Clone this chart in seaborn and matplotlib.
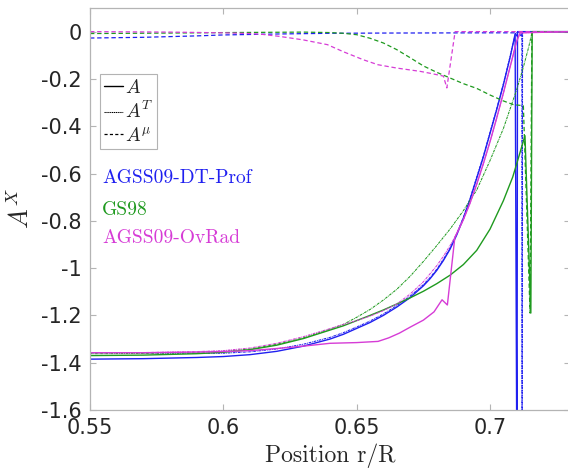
import matplotlib
matplotlib.use("Agg")
import matplotlib.pyplot as plt
import seaborn as sns
from matplotlib.lines import Line2D

sns.set_style("white")
plt.rcParams['font.family'] = ['DejaVu Sans']
plt.rcParams['mathtext.fontset'] = 'cm'
plt.rcParams['axes.unicode_minus'] = False

# ---------------- data ----------------
model_names = ["AGSS09-DT-Prof", "GS98", "AGSS09-OvRad"]
model_colors = ["#2020f0", "#1f9a1f", "#d63cd6"]

# AGSS09-DT-Prof
blueA_x = [0.55, 0.57, 0.59, 0.60, 0.61, 0.62, 0.63, 0.64, 0.645, 0.65, 0.655, 0.66, 0.665, 0.67,
           0.675, 0.6775, 0.68, 0.6825, 0.685, 0.6875, 0.69, 0.6925, 0.695, 0.6975, 0.70, 0.7025,
           0.705, 0.7075, 0.7094, 0.7101, 0.7103, 0.73]
blue_A = [-1.385, -1.383, -1.378, -1.374, -1.366, -1.352, -1.33, -1.30, -1.28, -1.255, -1.23, -1.20,
          -1.165, -1.125, -1.075, -1.045, -1.01, -0.968, -0.92, -0.86, -0.79, -0.71, -0.62, -0.53,
          -0.43, -0.33, -0.225, -0.11, -0.01, -2.0, 0.0, 0.0]
blueT_x = [0.55, 0.57, 0.59, 0.60, 0.61, 0.62, 0.63, 0.64, 0.645, 0.65, 0.655, 0.66, 0.665, 0.67,
           0.675, 0.6775, 0.68, 0.6825, 0.685, 0.6875, 0.69, 0.6925, 0.695, 0.6975, 0.70, 0.7025,
           0.705, 0.7075, 0.7096, 0.7119, 0.712, 0.7122, 0.73]
blue_AT = [-1.358, -1.359, -1.36, -1.36, -1.354, -1.342, -1.322, -1.293, -1.273, -1.249, -1.224, -1.194,
           -1.159, -1.119, -1.07, -1.04, -1.005, -0.963, -0.915, -0.855, -0.785, -0.705, -0.615, -0.525,
           -0.425, -0.325, -0.22, -0.105, -0.005, 0.0, -2.0, 0.0, 0.0]
blueM_x = [0.55, 0.57, 0.59, 0.60, 0.62, 0.64, 0.66, 0.70, 0.7095, 0.7100, 0.7104, 0.7117, 0.7121,
           0.7125, 0.73]
blue_Am = [-0.027, -0.024, -0.018, -0.014, -0.010, -0.007, -0.006, -0.005, -0.005, -0.018, -0.003,
           -0.018, -0.003, 0.0, 0.0]

# GS98
greenA_x = [0.55, 0.57, 0.59, 0.60, 0.61, 0.62, 0.63, 0.64, 0.645, 0.65, 0.655, 0.66, 0.665, 0.67,
            0.675, 0.68, 0.685, 0.69, 0.695, 0.70, 0.705, 0.7085, 0.7101, 0.7131, 0.7153, 0.7158, 0.73]
green_A = [-1.37, -1.368, -1.362, -1.356, -1.345, -1.326, -1.298, -1.262, -1.244, -1.222, -1.20, -1.177,
           -1.152, -1.126, -1.098, -1.066, -1.03, -0.985, -0.925, -0.835, -0.715, -0.615, -0.555, -0.44,
           -1.19, 0.0, 0.0]
greenT_x = [0.55, 0.57, 0.59, 0.60, 0.61, 0.62, 0.63, 0.64, 0.645, 0.65, 0.655, 0.66, 0.665, 0.67,
            0.675, 0.68, 0.685, 0.69, 0.695, 0.70, 0.705, 0.71, 0.7125, 0.7145, 0.7158, 0.73]
green_AT = [-1.362, -1.361, -1.357, -1.352, -1.342, -1.322, -1.295, -1.258, -1.238, -1.208, -1.175, -1.135,
            -1.09, -1.035, -0.972, -0.905, -0.835, -0.757, -0.67, -0.545, -0.41, -0.245, -0.15, -0.065,
            0.0, 0.0]
greenM_x = [0.55, 0.58, 0.60, 0.63, 0.64, 0.645, 0.65, 0.655, 0.66, 0.665, 0.67, 0.675, 0.68, 0.685,
            0.69, 0.695, 0.70, 0.705, 0.7088, 0.7125, 0.715, 0.7157, 0.73]
green_Am = [-0.008, -0.006, -0.004, -0.002, -0.004, -0.007, -0.013, -0.028, -0.048, -0.076, -0.11,
            -0.145, -0.172, -0.196, -0.22, -0.24, -0.268, -0.293, -0.309, -0.313, -1.19, 0.0, 0.0]

# AGSS09-OvRad
magA_x = [0.55, 0.57, 0.59, 0.60, 0.61, 0.62, 0.63, 0.64, 0.65, 0.658, 0.662, 0.666, 0.67, 0.675,
          0.679, 0.682, 0.684, 0.6868, 0.69, 0.6925, 0.695, 0.6975, 0.70, 0.7025, 0.705, 0.7075,
          0.71, 0.7113, 0.73]
mag_A = [-1.358, -1.358, -1.355, -1.353, -1.349, -1.34, -1.33, -1.318, -1.315, -1.31, -1.295, -1.275,
         -1.25, -1.22, -1.185, -1.134, -1.156, -0.87, -0.795, -0.725, -0.645, -0.558, -0.465, -0.365,
         -0.26, -0.15, -0.04, -0.005, 0.0]
magT_x = [0.55, 0.57, 0.59, 0.60, 0.61, 0.62, 0.63, 0.64, 0.645, 0.65, 0.655, 0.66, 0.665, 0.67,
          0.675, 0.68, 0.6825, 0.685, 0.6875, 0.69, 0.6925, 0.695, 0.6975, 0.70, 0.7025, 0.705,
          0.7075, 0.71, 0.7113, 0.73]
mag_AT = [-1.357, -1.357, -1.353, -1.349, -1.338, -1.318, -1.29, -1.256, -1.238, -1.222, -1.203, -1.18,
          -1.152, -1.11, -1.058, -0.99, -0.95, -0.905, -0.855, -0.795, -0.725, -0.645, -0.558, -0.465,
          -0.365, -0.26, -0.15, -0.04, -0.005, 0.0]
magM_x = [0.55, 0.58, 0.60, 0.61, 0.615, 0.621, 0.63, 0.639, 0.645, 0.6525, 0.658, 0.665, 0.6738,
          0.6775, 0.6825, 0.6838, 0.6869, 0.73]
mag_Am = [0.0, -0.002, -0.005, -0.008, -0.012, -0.02, -0.035, -0.055, -0.085, -0.119, -0.14, -0.154,
          -0.168, -0.176, -0.188, -0.238, 0.0, 0.0]

x_ticks = [0.55, 0.6, 0.65, 0.7]
x_tick_labels = ["0.55", "0.6", "0.65", "0.7"]
y_ticks = [0, -0.2, -0.4, -0.6, -0.8, -1.0, -1.2, -1.4, -1.6]
y_tick_labels = ["0", "-0.2", "-0.4", "-0.6", "-0.8", "-1", "-1.2", "-1.4", "-1.6"]

series = [
    (blueA_x, blue_A, blueT_x, blue_AT, blueM_x, blue_Am),
    (greenA_x, green_A, greenT_x, green_AT, greenM_x, green_Am),
    (magA_x, mag_A, magT_x, mag_AT, magM_x, mag_Am),
]

# ---------------- figure ----------------
fig = plt.figure(figsize=(5.68, 4.70), dpi=100)
ax = fig.add_axes([0.1585, 0.1277, 0.8451, 0.8553])

ls_T = (0, (2.5, 0.8, 0.8, 0.8))
ls_M = (0, (3.5, 2.2))
for (xa, ya, xt, yt, xm, ym), col in zip(series, model_colors):
    sns.lineplot(x=xa, y=ya, ax=ax, color=col, linewidth=1.0, sort=False, estimator=None)
    sns.lineplot(x=xt, y=yt, ax=ax, color=col, linewidth=0.75, linestyle=ls_T, sort=False, estimator=None)
    sns.lineplot(x=xm, y=ym, ax=ax, color=col, linewidth=0.9, linestyle=ls_M, sort=False, estimator=None)

ax.set_xlim(0.55, 0.73)
ax.set_ylim(-1.6, 0.1)
ax.set_xticks(x_ticks)
ax.set_xticklabels(x_tick_labels)
ax.set_yticks(y_ticks)
ax.set_yticklabels(y_tick_labels)

spine_col = "#b4b4b4"
for s in ax.spines.values():
    s.set_visible(True)
    s.set_color(spine_col)
    s.set_linewidth(0.9)
ax.tick_params(direction="in", length=4, width=0.8, color=spine_col, labelsize=15,
               labelcolor="#262626", top=True, right=True, bottom=True, left=True, pad=6)

ax.set_xlabel("Position r/R", fontfamily="cmr10", fontsize=17, color="#262626", labelpad=4)
ax.set_ylabel(r"$A^X$", fontsize=19, color="#262626", labelpad=4)

handles = [Line2D([], [], color="black", linewidth=1.0),
           Line2D([], [], color="black", linewidth=0.75, linestyle=(0, (1.2, 0.6))),
           Line2D([], [], color="black", linewidth=0.9, linestyle=(0, (2.5, 1.8)))]
leg = ax.legend(handles, [r"$A$", r"$A^T$", r"$A^\mu$"], loc="upper left",
                bbox_to_anchor=(0.02, 0.835), fontsize=14, handlelength=1.0, handletextpad=0.1,
                borderpad=0.2, labelspacing=0.2, fancybox=False, frameon=True, borderaxespad=0)
leg.get_frame().set_edgecolor("#a0a0a0")
leg.get_frame().set_linewidth(0.8)

text_y = [0.577, 0.497, 0.428]
for name, col, ty in zip(model_names, model_colors, text_y):
    ax.text(0.025, ty, name, transform=ax.transAxes, color=col, fontfamily="cmr10",
            fontsize=14, va="center", ha="left")

fig.savefig("out.png", dpi=100)
